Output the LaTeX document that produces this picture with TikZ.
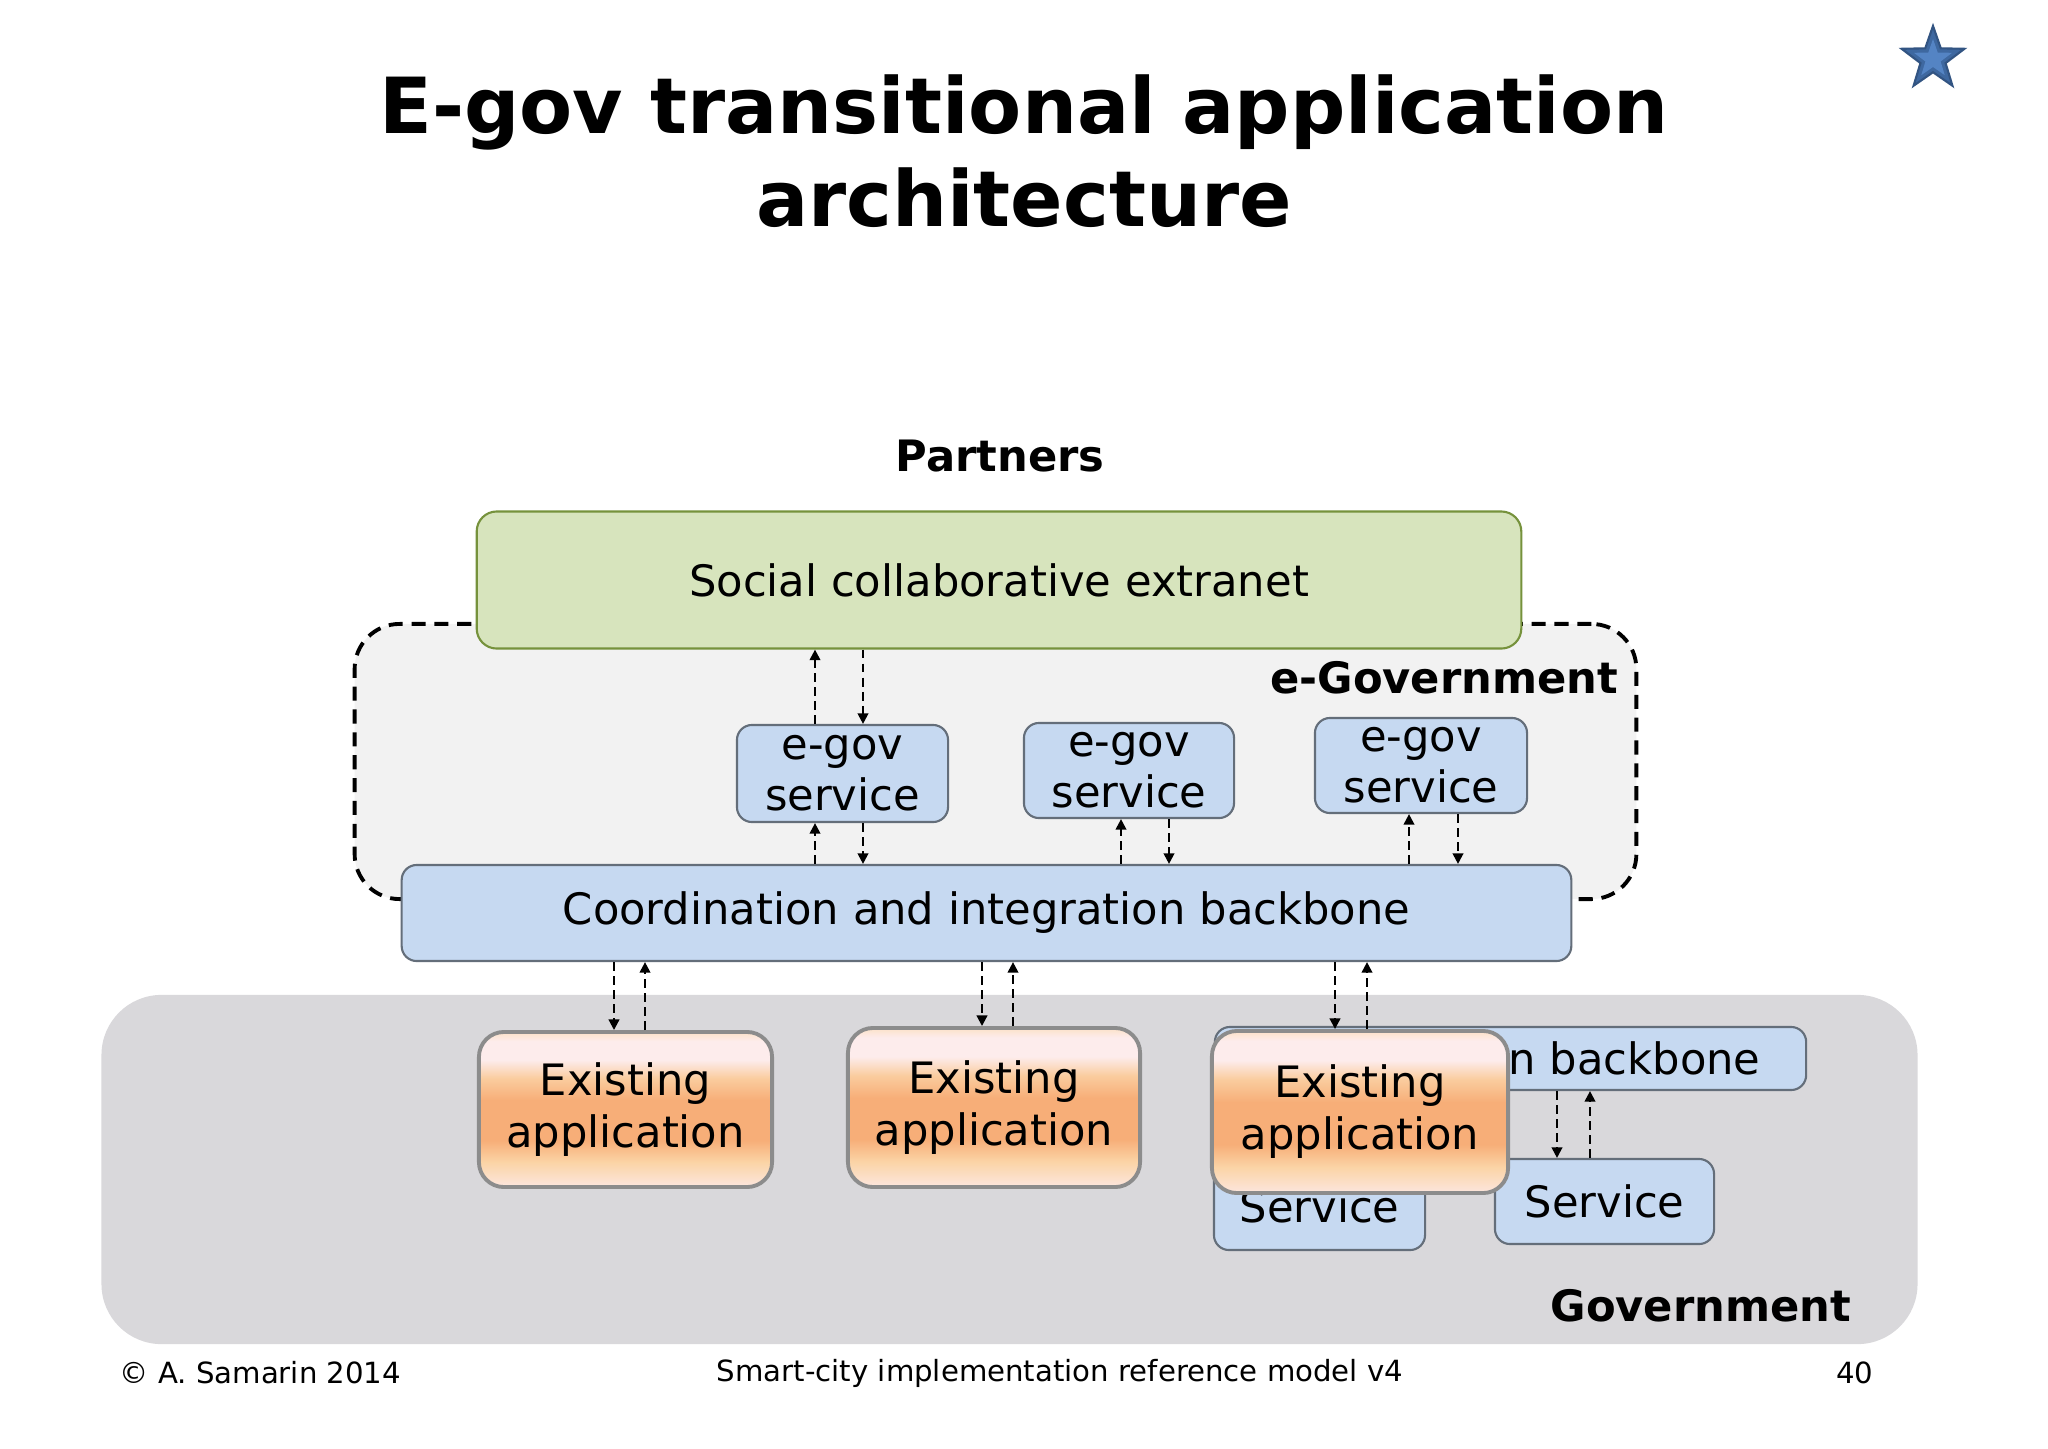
\documentclass[tikz,border=0pt]{standalone}
\usepackage{fontspec}
\setmainfont{DejaVu Sans}
\usepackage{tikz}
\usetikzlibrary{arrows, arrows.meta, positioning, shapes.geometric}

\definecolor{extfill}{RGB}{215,228,189}
\definecolor{extline}{RGB}{118,146,60}
\definecolor{egovfill}{RGB}{242,242,242}
\definecolor{svcfill}{RGB}{198,217,241}
\definecolor{svcline}{RGB}{100,110,122}
\definecolor{govfill}{RGB}{217,216,219}
\definecolor{appline}{RGB}{140,140,140}
\definecolor{appbot}{RGB}{252,230,222}
\definecolor{apppeach}{RGB}{251,212,166}
\definecolor{apporange}{RGB}{247,174,120}
\definecolor{applight}{RGB}{250,204,158}
\definecolor{apppink}{RGB}{253,236,236}
\definecolor{apptop}{RGB}{252,225,200}
\definecolor{starblue}{RGB}{62,104,160}
\definecolor{stardark}{RGB}{50,84,130}
\definecolor{starlight}{RGB}{84,132,196}

\pgfdeclareverticalshading{appshade}{100bp}{color(0bp)=(appbot); color(25bp)=(appbot);
  color(33bp)=(apppeach); color(40bp)=(apporange); color(53bp)=(apporange);
  color(60bp)=(applight); color(66bp)=(apppink); color(72bp)=(apppink); color(75bp)=(apptop); color(100bp)=(apptop)}

\newcommand{\diagfont}{\fontsize{12.3}{14.5}\selectfont}
\newcommand{\appfont}{\fontsize{12.3}{14.8}\selectfont}
\newcommand{\titlefont}{\bfseries\fontsize{22}{26.6}\selectfont}
\newcommand{\footfont}{\fontsize{8.3}{10}\selectfont}

\begin{document}
\begin{tikzpicture}[x=0.01cm, y=-0.01cm, >={Triangle[length=3pt, width=3pt]},
    svc/.style={draw=svcline, fill=svcfill, rounded corners=0.15cm, line width=0.6pt,
      inner sep=0pt, align=center, font=\diagfont},
    app/.style={draw=appline, shading=appshade, rounded corners=0.25cm, line width=1.1pt,
      inner sep=0pt, align=center, font=\appfont},
    flow/.style={->, dash pattern=on 2.5pt off 1.5pt, line width=0.6pt},
    lbl/.style={font=\bfseries\diagfont, inner sep=0pt}]
    \fill[white] (0,0) rectangle (2048,1448);
    \useasboundingbox (0,0) rectangle (2048,1448);

    % title and star
    \node[font=\titlefont, align=center] (title) at (1024,151) {E-gov transitional application\\architecture};
    \node[star, star points=5, star point ratio=2.5, minimum size=0.66cm, inner sep=0pt,
      fill=starblue, draw=stardark, line width=0.6pt] (star) at (1933,59) {};
    \node[star, star points=5, star point ratio=2.5, minimum size=0.4cm, inner sep=0pt,
      fill=starlight] (starin) at (star.center) {};

    % government
    \node[fill=govfill, rounded corners=0.6cm, minimum width=18.15cm, minimum height=3.49cm] (gov) at (1009.5,1169.5) {};
    \node[lbl, anchor=east] (govlbl) at (1852,1306) {Government};

    % e-government
    \node[lbl] (partners) at (1000,456) {Partners};
    \node[draw, fill=egovfill, rounded corners=0.45cm, line width=1.1pt, dash pattern=on 4pt off 2.5pt,
      minimum width=12.81cm, minimum height=2.75cm] (egov) at (995.5,761.5) {};
    \node[lbl, anchor=east] (egovlbl) at (1619,678) {e-Government};
    \node[draw=extline, fill=extfill, rounded corners=0.2cm, line width=0.6pt, font=\diagfont,
      minimum width=10.44cm, minimum height=1.37cm] (ext) at (999,580) {Social collaborative extranet};
    \node[svc, minimum width=2.11cm, minimum height=0.97cm] (s1) at (842.5,773.5) {e-gov\\service};
    \node[svc, minimum width=2.10cm, minimum height=0.95cm] (s2) at (1129,770.5) {e-gov\\service};
    \node[svc, minimum width=2.12cm, minimum height=0.95cm] (s3) at (1421,765.5) {e-gov\\service};
    \node[svc, minimum width=11.69cm, minimum height=0.96cm] (cib) at (986.5,913) {Coordination and integration backbone};

    \draw[flow] (815,0 |- s1.north) -- (815,0 |- ext.south);
    \draw[flow] (863,0 |- ext.south) -- (863,0 |- s1.north);
    \draw[flow] (815,0 |- cib.north) -- (815,0 |- s1.south);
    \draw[flow] (863,0 |- s1.south) -- (863,0 |- cib.north);
    \draw[flow] (1121,0 |- cib.north) -- (1121,0 |- s2.south);
    \draw[flow] (1169,0 |- s2.south) -- (1169,0 |- cib.north);
    \draw[flow] (1409,0 |- cib.north) -- (1409,0 |- s3.south);
    \draw[flow] (1458,0 |- s3.south) -- (1458,0 |- cib.north);

    % existing applications
    \node[svc, minimum width=5.91cm, minimum height=0.63cm] (bb2) at (1510.5,1058.5) {};
    \node[font=\diagfont, anchor=east, inner sep=0pt] (bb2lbl) at ([xshift=-0.46cm]bb2.east) {n backbone};
    \node[svc, minimum width=2.11cm, minimum height=0.87cm] (sv1) at (1319.5,1206.5) {Service};
    \node[svc, minimum width=2.19cm, minimum height=0.85cm] (sv2) at (1604.5,1201.5) {Service};
    \node[app, minimum width=2.93cm, minimum height=1.55cm] (a1) at (625.5,1109.5) {Existing\\application};
    \node[app, minimum width=2.92cm, minimum height=1.59cm] (a2) at (994,1107.5) {Existing\\application};
    \node[app, minimum width=2.96cm, minimum height=1.62cm] (a3) at (1360,1112) {Existing\\application};

    \draw[flow] (614,0 |- cib.south) -- (614,0 |- a1.north);
    \draw[flow] (645,0 |- a1.north) -- (645,0 |- cib.south);
    \draw[flow] (982,0 |- cib.south) -- (982,0 |- a2.north);
    \draw[flow] (1013,0 |- a2.north) -- (1013,0 |- cib.south);
    \draw[flow] (1335,0 |- cib.south) -- (1335,0 |- a3.north);
    \draw[flow] (1367,0 |- a3.north) -- (1367,0 |- cib.south);
    \draw[flow] (1557,0 |- bb2.south) -- (1557,0 |- sv2.north);
    \draw[flow] (1590,0 |- sv2.north) -- (1590,0 |- bb2.south);

    % footer
    \node[font=\footfont, anchor=west, inner sep=0pt] (copy) at (119,1373) {© A. Samarin 2014};
    \node[font=\footfont] (model) at (1060,1373) {Smart-city implementation reference model v4};
    \node[font=\footfont, anchor=east, inner sep=0pt] (page) at (1874,1373) {40};
\end{tikzpicture}
\end{document}
